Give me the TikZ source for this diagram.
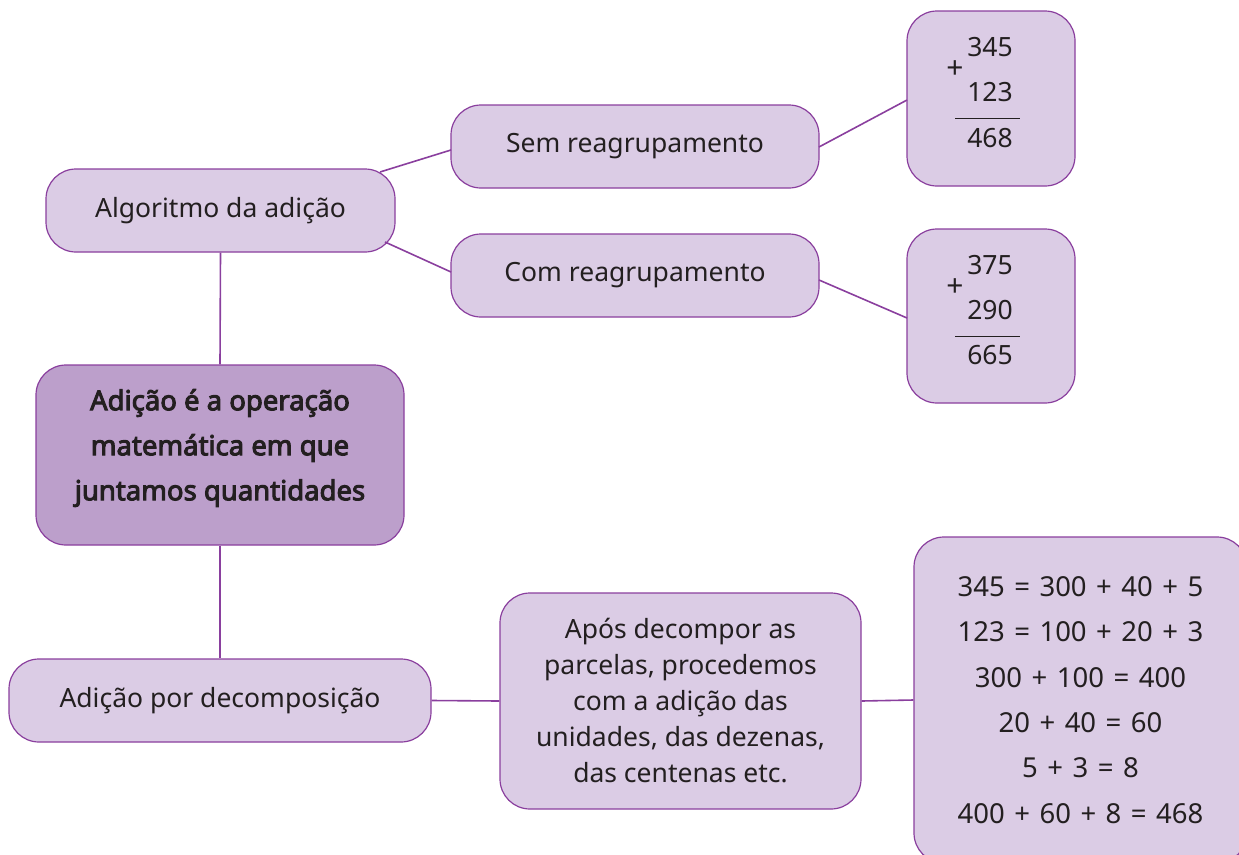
\documentclass[tikz,border=0pt]{standalone}
\usepackage{fontspec}
\setmainfont{Noto Sans}
\newfontfamily\mainbold{Noto Sans}[FakeBold=3.5]
\newcommand\widespaces{\spaceskip=9.5pt\relax}
\definecolor{boxfill}{HTML}{DBCCE5}
\definecolor{mainfill}{HTML}{BC9FCB}
\definecolor{edge}{HTML}{8A3F9E}
\definecolor{ink}{HTML}{231F20}
\tikzset{
  box/.style={draw=edge, line width=1.2pt, fill=boxfill, rounded corners=30pt, inner sep=0pt, align=center, text=ink, font=\fontsize{26.5}{36}\selectfont},
  txt/.style={inner sep=0pt, text=ink, font=\fontsize{26.5}{30}\selectfont},
  plus/.style={inner sep=0pt, text=ink, font=\fontsize{30}{30}\selectfont},
  link/.style={draw=edge, line width=1.6pt}
}
\begin{document}
\begin{tikzpicture}[x=1pt,y=-1pt]
\useasboundingbox (0,0) rectangle (1239,854);
\begin{scope}
\clip (0,0) rectangle (1239,854);
\coordinate (a1) at (380,172);
\coordinate (a2) at (385,242);
\coordinate (s0) at (451,150);
\coordinate (c0) at (451,272);
\coordinate (s1) at (819,147);
\coordinate (e1) at (907,100);
\coordinate (c1) at (819,280);
\coordinate (e2) at (907,318);
\node[box, minimum width=349pt, minimum height=83pt] (alg) at (220.5,210.5) {Algoritmo da adição};
\node[box, minimum width=368pt, minimum height=83pt] (sem) at (635,146.5) {Sem reagrupamento};
\node[box, minimum width=368pt, minimum height=83pt] (com) at (635,275.5) {Com reagrupamento};
\node[box, minimum width=168pt, minimum height=175pt] (ex1) at (991,98.5) {};
\node[box, minimum width=168pt, minimum height=174pt] (ex2) at (991,316) {};
\node[box, fill=mainfill, minimum width=368pt, minimum height=180pt] (main) at (220,455) {};
\node[txt, align=center, font=\mainbold\fontsize{27.5}{45}\selectfont] (mainlabel) at (220,448) {Adição é a operação\\matemática em que\\juntamos quantidades};
\node[box, minimum width=422pt, minimum height=83pt] (dec) at (220,700.5) {Adição por decomposição};
\node[box, minimum width=361pt, minimum height=216pt] (apos) at (680.5,701) {Após decompor as\\parcelas, procedemos\\com a adição das\\unidades, das dezenas,\\das centenas etc.};
\node[box, minimum width=333pt, minimum height=326pt, font=\fontsize{27.5}{45.3}\selectfont\widespaces] (res) at (1080.5,700) {345 = 300 + 40 + 5\\123 = 100 + 20 + 3\\300 + 100 = 400\\20 + 40 = 60\\5 + 3 = 8\\400 + 60 + 8 = 468};
\draw[link] (a1) -- (s0);
\draw[link] (a2) -- (c0);
\draw[link] (s1) -- (e1);
\draw[link] (c1) -- (e2);
\draw[link] (alg.south) -- (main.north);
\draw[link] (main.south) -- (dec.north);
\draw[link] (dec.east) -- (apos.west);
\draw[link] (apos.east) -- (res.west);
\node[txt] (n11) at (990,47) {345};
\node[plus] (p1) at (955,70) {+};
\node[txt] (n12) at (990,92) {123};
\node[txt] (n13) at (990,138) {468};
\draw[ink, line width=1pt] (955,118) -- (1020,118);
\node[txt] (n21) at (990,265) {375};
\node[plus] (p2) at (955,288) {+};
\node[txt] (n22) at (990,310) {290};
\node[txt] (n23) at (990,355) {665};
\draw[ink, line width=1pt] (955,336) -- (1020,336);
\end{scope}
\end{tikzpicture}
\end{document}
